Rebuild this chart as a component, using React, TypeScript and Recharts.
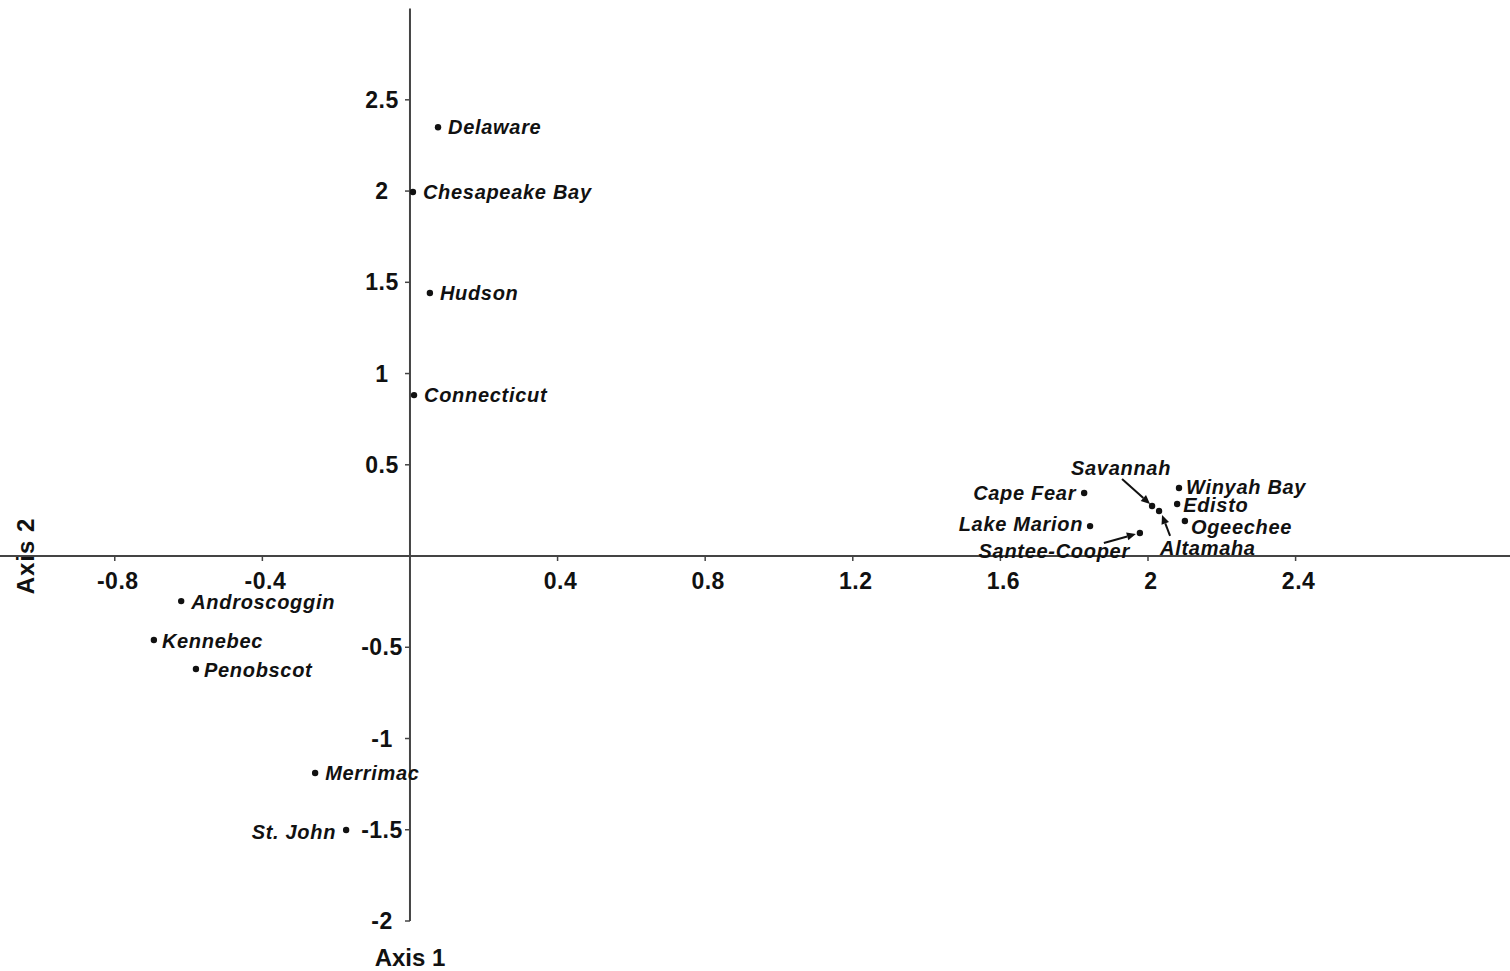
import { ScatterChart, Scatter, XAxis, YAxis, ReferenceLine, ReferenceDot } from "recharts"

const rivers = [
  "Delaware", "Chesapeake Bay", "Hudson", "Connecticut",
  "Cape Fear", "Lake Marion", "Santee-Cooper", "Savannah", "Altamaha",
  "Winyah Bay", "Edisto", "Ogeechee",
  "Androscoggin", "Kennebec", "Penobscot", "Merrimac", "St. John"
]
const axis1 = [
  0.076, 0.008, 0.054, 0.011,
  1.827, 1.843, 1.978, 2.011, 2.03,
  2.084, 2.079, 2.1,
  -0.62, -0.694, -0.58, -0.257, -0.173
]
const axis2 = [
  2.35, 1.995, 1.441, 0.882,
  0.345, 0.164, 0.126, 0.274, 0.247,
  0.373, 0.285, 0.192,
  -0.247, -0.46, -0.619, -1.189, -1.501
]
const xTicks = [-0.8, -0.4, 0.4, 0.8, 1.2, 1.6, 2, 2.4]
const yTicks = [2.5, 2, 1.5, 1, 0.5, -0.5, -1, -1.5, -2]

// label offsets in px from the dot
type Place = { dx: number; dy: number; anchor: "start" | "end" | "middle"; arrow?: number[] }
const placement: Record<string, Place> = {
  "Cape Fear": { dx: -8, dy: 0, anchor: "end" },
  "Lake Marion": { dx: -7, dy: -2, anchor: "end" },
  "Santee-Cooper": { dx: -10, dy: 18, anchor: "end", arrow: [-36, 10, -4, 1] },
  "Savannah": { dx: -31, dy: -38, anchor: "middle", arrow: [-30, -27, -2, -2] },
  "Altamaha": { dx: 1, dy: 37, anchor: "start", arrow: [11, 25, 3, 4] },
  "Winyah Bay": { dx: 7, dy: -1, anchor: "start" },
  "Edisto": { dx: 6, dy: 1, anchor: "start" },
  "Ogeechee": { dx: 6, dy: 6, anchor: "start" },
  "Androscoggin": { dx: 10, dy: 1, anchor: "start" },
  "Kennebec": { dx: 8, dy: 1, anchor: "start" },
  "Penobscot": { dx: 8, dy: 1, anchor: "start" },
  "St. John": { dx: -10, dy: 2, anchor: "end" },
}

const data = rivers.map((name, i) => ({ name, x: axis1[i], y: axis2[i] }))

const FONT = "'Liberation Sans', Arial, Helvetica, sans-serif"
const INK = "#111"
const AXIS = "#444"

function RiverDot(props: any) {
  const { cx, cy, payload } = props
  const p = placement[payload.name] || { dx: 10, dy: 0, anchor: "start" }
  let arrow = null
  if (p.arrow) {
    const [x1, y1, x2, y2] = p.arrow
    const ax = cx + x2
    const ay = cy + y2
    const ang = Math.atan2(y2 - y1, x2 - x1)
    const len = 9
    const w = 4
    const bx = ax - len * Math.cos(ang)
    const by = ay - len * Math.sin(ang)
    const px = -Math.sin(ang) * w
    const py = Math.cos(ang) * w
    arrow = (
      <g>
        <line x1={cx + x1} y1={cy + y1} x2={bx} y2={by} stroke={INK} strokeWidth={2} />
        <polygon points={`${ax},${ay} ${bx + px},${by + py} ${bx - px},${by - py}`} fill={INK} />
      </g>
    )
  }
  return (
    <g>
      <circle cx={cx} cy={cy} r={3.2} fill={INK} />
      {arrow}
      <text
        x={cx + p.dx}
        y={cy + p.dy}
        textAnchor={p.anchor}
        dominantBaseline="central"
        fontFamily={FONT}
        fontSize={20}
        fontWeight="bold"
        fontStyle="italic"
        letterSpacing={0.7}
        fill={INK}
      >
        {payload.name}
      </text>
    </g>
  )
}

function XTick(props: any) {
  const { cx, cy, label } = props
  return (
    <g>
      <line x1={cx} y1={cy} x2={cx} y2={cy + 5} stroke={AXIS} strokeWidth={1.5} />
      <text x={cx + 3} y={cy + 33} textAnchor="middle" fontFamily={FONT} fontSize={23} fontWeight="bold" letterSpacing={0.5} fill={INK}>
        {label}
      </text>
    </g>
  )
}

function YTick(props: any) {
  const { cx, cy, label } = props
  return (
    <g>
      <line x1={cx - 5} y1={cy} x2={cx} y2={cy} stroke={AXIS} strokeWidth={1.5} />
      <text x={cx - 28} y={cy} textAnchor="middle" dominantBaseline="central" fontFamily={FONT} fontSize={23} fontWeight="bold" letterSpacing={0.5} fill={INK}>
        {label}
      </text>
    </g>
  )
}

export default function App() {
  return (
    <div style={{ position: "absolute", left: 0, top: 0, background: "#fff" }}>
      <ScatterChart width={1510} height={971} margin={{ top: 0, right: 0, bottom: 0, left: 0 }}>
        <XAxis type="number" dataKey="x" hide domain={[-1.111, 2.981]} allowDataOverflow />
        <YAxis type="number" dataKey="y" hide domain={[-2.274, 3.047]} allowDataOverflow />

        <ReferenceLine y={0} stroke={AXIS} strokeWidth={2} />
        <ReferenceLine segment={[{ x: 0, y: -2 }, { x: 0, y: 3 }]} stroke={AXIS} strokeWidth={2} />

        {xTicks.map(t => (
          <ReferenceDot key={"x" + t} x={t} y={0} r={0} shape={(p: any) => <XTick {...p} label={String(t)} />} />
        ))}
        {yTicks.map(t => (
          <ReferenceDot key={"y" + t} x={0} y={t} r={0} shape={(p: any) => <YTick {...p} label={String(t)} />} />
        ))}

        <Scatter data={data} shape={RiverDot} isAnimationActive={false} />

        <text x={410} y={966} textAnchor="middle" fontFamily={FONT} fontSize={24} fontWeight="bold" fill={INK}>
          Axis 1
        </text>
        <text
          x={25}
          y={556}
          textAnchor="middle"
          dominantBaseline="central"
          transform="rotate(-90 25 556)"
          fontFamily={FONT}
          fontSize={24}
          fontWeight="bold"
          letterSpacing={1}
          fill={INK}
        >
          Axis 2
        </text>
      </ScatterChart>
    </div>
  )
}
